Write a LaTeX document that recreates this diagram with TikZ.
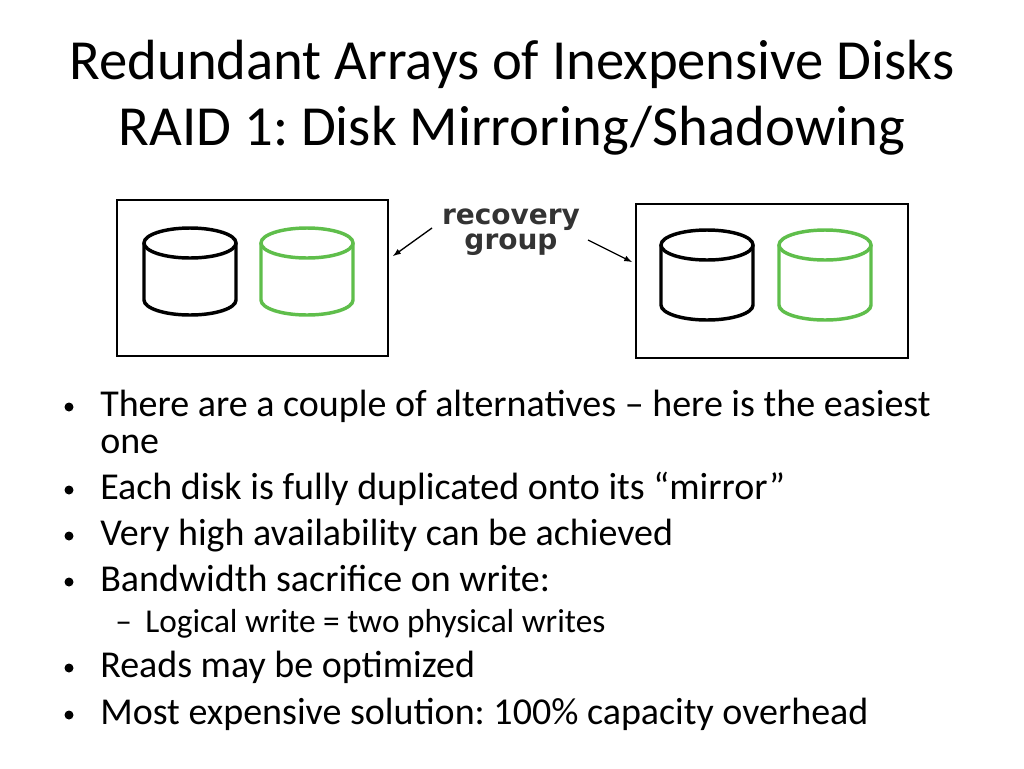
\documentclass[tikz,border=0pt]{standalone}
\usepackage{fontspec}
\setmainfont{Carlito}
\newfontfamily\vfont{DejaVu Sans}
\definecolor{gr}{RGB}{95,190,75}
\begin{document}
\frenchspacing
\begin{tikzpicture}[x=0.75pt,y=-0.75pt,
  box/.style={draw,line width=1.5pt},
  cyl/.style={line width=2.6pt},
  txt/.style={anchor=base west,inner sep=0,font=\fontsize{28.5}{32}\selectfont},
  sub/.style={anchor=base west,inner sep=0,font=\fontsize{25}{28}\selectfont},
  arr/.style={-latex,line width=1pt}]
\useasboundingbox (0,0) rectangle (1024,768);
\node[font=\fontsize{42.5}{46}\selectfont] (t1) at (512,64) {Redundant Arrays of Inexpensive Disks};
\node[font=\fontsize{42.5}{46}\selectfont] (t2) at (512,131) {RAID 1: Disk Mirroring/Shadowing};
\node[box,minimum width=203pt,minimum height=117pt,inner sep=0] (bl) at (252.5,278) {};
\node[box,minimum width=204pt,minimum height=115.5pt,inner sep=0] (br) at (772,281) {};
\foreach \cx/\ty/\by/\col in {190/243/300/black,307/243/300/gr,707/245/305/black,825/245/305/gr}{
  \draw[cyl,draw=\col] (\cx,\ty) ellipse [x radius=46, y radius=15];
  \draw[cyl,draw=\col] (\cx-46,\ty) -- (\cx-46,\by) arc[start angle=180,end angle=0,x radius=46,y radius=15] -- (\cx+46,\ty);
}
\node[font=\vfont\bfseries\fontsize{21}{23}\selectfont,align=center,text=black!80] (rg) at (511,232) {recovery\\[-4pt]group};
\coordinate (a1) at (432,228); \coordinate (a2) at (588,240);
\draw[arr] (a1) -- (393,256);
\draw[arr] (a2) -- (632,262);
\foreach \y/\t in {416/{There are a couple of alternatives -- here is the easiest},453/one,499/{Each disk is fully duplicated onto its ``mirror''},545/{Very high availability can be achieved},591/{Bandwidth sacrifice on write:},677/{Reads may be optimized},724/{Most expensive solution: 100\% capacity overhead}}
  \node[txt] at (100,\y) {\t};
\foreach \y in {407,490,536,582,668,715} \fill (69,\y) circle (4.5);
\node[sub] at (115,632) {--};
\node[sub] at (145,632) {Logical write = two physical writes};
\end{tikzpicture}
\end{document}
